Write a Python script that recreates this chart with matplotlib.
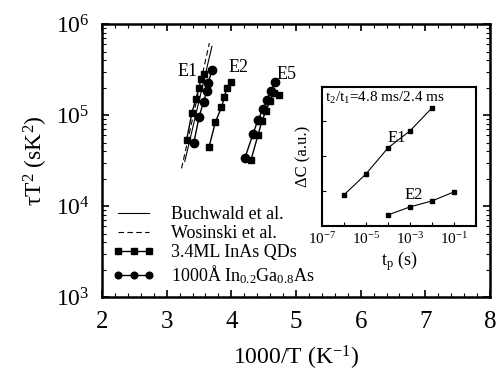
import numpy as np
import matplotlib
matplotlib.use('Agg')
import matplotlib.pyplot as plt
from matplotlib.ticker import LogLocator, NullFormatter, MultipleLocator

plt.rcParams['font.family'] = ['Liberation Serif', 'DejaVu Serif']
plt.rcParams['mathtext.default'] = 'regular'

# --- main panel data: 1000/T (K^-1) vs tau*T^2 (s K^2) ---
# E1 level
e1_qd_x = [3.31, 3.39, 3.45, 3.50, 3.53, 3.57]
e1_qd_y = [5.4e4, 1.06e5, 1.49e5, 2.0e5, 2.47e5, 2.84e5]
e1_ingaas_x = [3.42, 3.50, 3.57, 3.62, 3.64, 3.70]
e1_ingaas_y = [4.97e4, 9.5e4, 1.40e5, 1.84e5, 2.23e5, 3.10e5]
# E2 level (QDs only)
e2_qd_x = [3.654, 3.754, 3.847, 3.893, 3.927, 3.989]
e2_qd_y = [4.45e4, 8.4e4, 1.22e5, 1.58e5, 1.97e5, 2.3e5]
# E5 level
e5_ingaas_x = [4.21, 4.334, 4.411, 4.488, 4.55, 4.612, 4.674]
e5_ingaas_y = [3.37e4, 6.2e4, 8.8e4, 1.16e5, 1.46e5, 1.84e5, 2.31e5]
e5_qd_x = [4.303, 4.411, 4.473, 4.535, 4.597, 4.658, 4.736]
e5_qd_y = [3.2e4, 6.0e4, 8.6e4, 1.11e5, 1.43e5, 1.75e5, 1.66e5]
# literature lines
buchwald_x = [3.28, 3.70]
buchwald_y = [3.1e4, 5.7e5]
wosinski_x = [3.23, 3.66]
wosinski_y = [2.6e4, 6.2e5]

# --- inset data: pulse width t_p (s) vs Delta C (a.u.) ---
inset_e1_x = [1e-6, 1e-5, 1e-4, 1e-3, 1e-2]
inset_e1_y = [3.1, 5.2, 7.8, 9.5, 11.8]
inset_e2_x = [1e-4, 1e-3, 1e-2, 1e-1]
inset_e2_y = [1.1, 1.9, 2.5, 3.4]

fig = plt.figure(figsize=(5.0, 3.81), dpi=100)
ax = fig.add_axes([0.204, 0.220, 0.776, 0.7166])

ax.plot(buchwald_x, buchwald_y, '-', color='black', lw=0.8, label='Buchwald et al.')
ax.plot(wosinski_x, wosinski_y, '--', color='black', lw=0.8, dashes=(5, 3),
        label='Wosinski et al.')
sq = dict(color='black', marker='s', ms=5, lw=1.0)
ci = dict(color='black', marker='o', ms=6, lw=1.0)
ax.plot(e1_qd_x, e1_qd_y, **sq, label='3.4ML InAs QDs')
ax.plot(e1_ingaas_x, e1_ingaas_y, **ci, label='1000Å In$_{0.2}$Ga$_{0.8}$As')
ax.plot(e2_qd_x, e2_qd_y, **sq)
ax.plot(e5_qd_x, e5_qd_y, **sq)
ax.plot(e5_ingaas_x, e5_ingaas_y, **ci)

ax.text(3.33, 3.0e5, 'E1', fontsize=13, ha='center', va='center')
ax.text(4.11, 3.3e5, 'E2', fontsize=13, ha='center', va='center')
ax.text(4.86, 2.8e5, 'E5', fontsize=13, ha='center', va='center')

ax.set_yscale('log')
ax.set_xlim(2, 8)
ax.set_ylim(1e3, 1e6)
ax.set_yticks([1e3, 1e4, 1e5, 1e6])
ax.yaxis.set_minor_locator(LogLocator(base=10, subs=np.arange(2, 10), numticks=20))
ax.yaxis.set_minor_formatter(NullFormatter())
ax.xaxis.set_major_locator(MultipleLocator(1))
ax.xaxis.set_minor_locator(MultipleLocator(0.2))
ax.tick_params(which='both', direction='in', top=True, right=True)
ax.tick_params(axis='x', which='major', pad=10, labelsize=18)
ax.tick_params(axis='y', which='major', pad=9, labelsize=17)
ax.tick_params(which='major', length=5, width=1.2)
ax.tick_params(which='minor', length=3, width=0.8)
for s in ax.spines.values():
    s.set_linewidth(1.8)

ax.set_xlabel('1000/T (K$^{-1}$)', fontsize=17, labelpad=8)
ax.set_ylabel('τT$^{2}$ (sK$^{2}$)', fontsize=17, labelpad=4)

leg = ax.legend(loc='lower left', frameon=False, fontsize=13, numpoints=3,
                handlelength=2.3, handletextpad=0.9, labelspacing=0.12,
                borderaxespad=0.2, bbox_to_anchor=(0.0, 0.0), markerscale=0.8)

# --- inset ---
ins = fig.add_axes([0.644, 0.407, 0.308, 0.365])
ins.plot(inset_e1_x, inset_e1_y, color='black', marker='s', ms=3.5, lw=0.8)
ins.plot(inset_e2_x, inset_e2_y, color='black', marker='s', ms=3.5, lw=0.8)
ins.set_xscale('log')
ins.set_xlim(1e-7, 1e0)
ins.set_ylim(0, 13.9)
ins_ticks = [1e-7, 1e-6, 1e-5, 1e-4, 1e-3, 1e-2, 1e-1, 1e0]
ins_labels = ['10$^{-7}$', '', '10$^{-5}$', '', '10$^{-3}$', '', '10$^{-1}$', '']
ins.set_xticks(ins_ticks)
ins.set_xticklabels(ins_labels)
ins.xaxis.set_minor_locator(plt.NullLocator())
ins.set_yticks([3.5, 7.0, 10.5])
ins.set_yticklabels([])
ins.tick_params(which='both', direction='in', labelsize=11, length=3)
for s in ins.spines.values():
    s.set_linewidth(1.5)
ins.set_xlabel('t$_{p}$ (s)', fontsize=13, labelpad=2)
ins.set_ylabel('ΔC (a.u.)', fontsize=12, labelpad=4)
ins.text(0.02, 0.92, 't$_{2}$/t$_{1}$=4.8 ms/2.4 ms', transform=ins.transAxes,
         fontsize=11, ha='left', va='center')
ins.text(2.5e-4, 8.8, 'E1', fontsize=12, ha='center', va='center')
ins.text(1.5e-3, 2.3, 'E2', fontsize=12, ha='center', va='bottom')

fig.savefig('out.png', dpi=100)
